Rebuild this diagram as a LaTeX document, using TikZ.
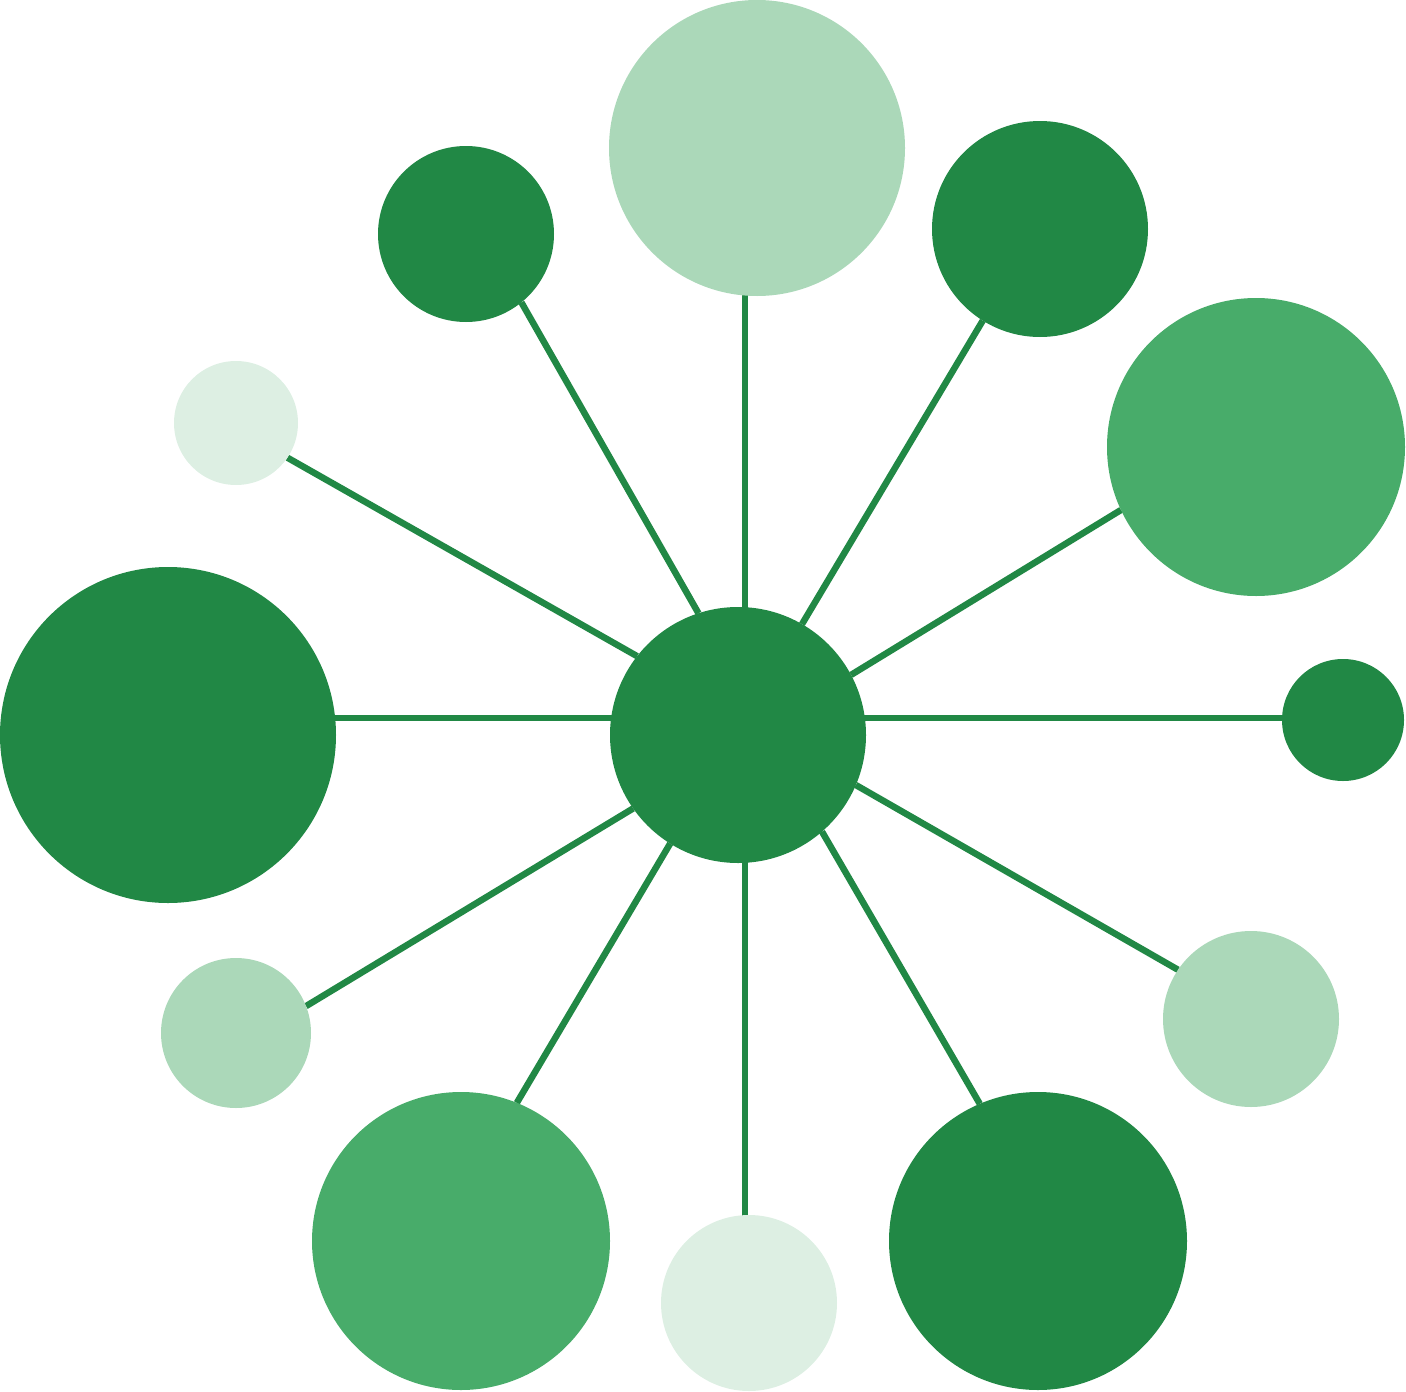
\documentclass[tikz,border=0pt]{standalone}
\usetikzlibrary{backgrounds}
\definecolor{gdark}{HTML}{218845}
\definecolor{gmed}{HTML}{48AC6A}
\definecolor{glight}{HTML}{ABD8B9}
\definecolor{gpale}{HTML}{DDEFE3}
\begin{document}
\begin{tikzpicture}[x=1pt,y=-1pt,
  ball/.style={circle,inner sep=0pt,outer sep=0pt,draw=none,minimum size=#1},
  spoke/.style={draw=gdark,line width=6.5pt}]
\useasboundingbox (0,0) rectangle (1406,1392);
\node[ball=256pt,fill=gdark] (hub) at (738,735) {};
\node[ball=296pt,fill=glight] (n1) at (757,148) {};
\node[ball=176pt,fill=gdark] (n2) at (466,234) {};
\node[ball=216pt,fill=gdark] (n3) at (1040,229) {};
\node[ball=298pt,fill=gmed] (n4) at (1256,447) {};
\node[ball=122pt,fill=gdark] (n5) at (1343,720) {};
\node[ball=176pt,fill=glight] (n6) at (1251,1019) {};
\node[ball=298pt,fill=gdark] (n7) at (1038,1241) {};
\node[ball=176pt,fill=gpale] (n8) at (749,1303) {};
\node[ball=298pt,fill=gmed] (n9) at (461,1241) {};
\node[ball=150pt,fill=glight] (n10) at (236,1033) {};
\node[ball=336pt,fill=gdark] (n11) at (168,735) {};
\node[ball=124pt,fill=gpale] (n12) at (236,423) {};
\coordinate (vx) at (745,0);
\coordinate (hy) at (0,718);
\begin{scope}[on background layer]
\path[spoke] (vx |- hub.center) -- (vx |- n1.center);
\path[spoke] (hub.108.9) -- (n2.309.8);
\path[spoke] (hub.60.1) -- (n3.238.9);
\path[spoke] (hub.28.4) -- (n4.205.2);
\path[spoke] (hub.center |- hy) -- (n5.center |- hy);
\path[spoke] (hub.337) -- (n6.146.1);
\path[spoke] (hub.311.5) -- (n7.113.2);
\path[spoke] (vx |- hub.center) -- (vx |- n8.center);
\path[spoke] (hub.238.5) -- (n9.68.1);
\path[spoke] (hub.215.2) -- (n10.21.5);
\path[spoke] (hub.center |- hy) -- (n11.center |- hy);
\path[spoke] (hub.142.9) -- (n12.326.8);
\end{scope}
\end{tikzpicture}
\end{document}
